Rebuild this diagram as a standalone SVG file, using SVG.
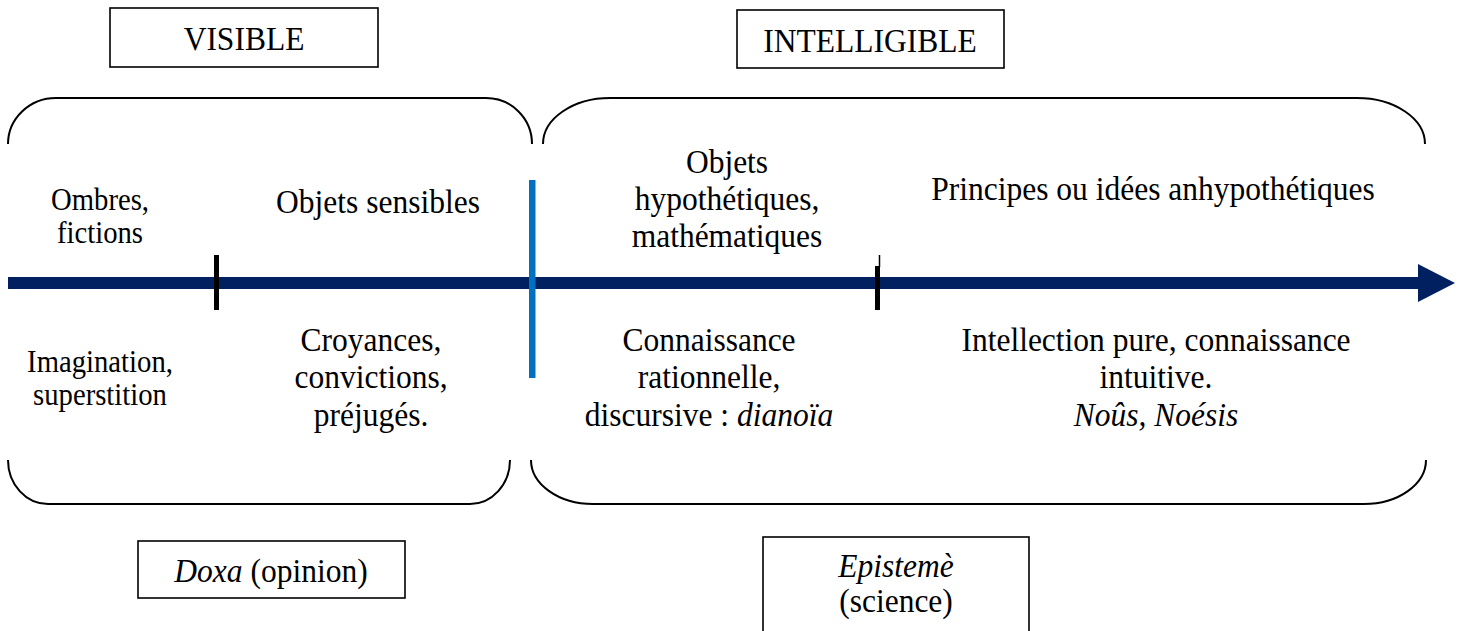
<svg xmlns="http://www.w3.org/2000/svg" width="1464" height="631" viewBox="0 0 1464 631">
<style>
text{font-family:'Liberation Serif','DejaVu Serif',serif;font-size:31.5px;text-anchor:middle;fill:#000}
.s{font-size:28.7px}
.i{font-style:italic}
.box{fill:#fff;stroke:#000;stroke-width:1.6}
.br{fill:none;stroke:#000;stroke-width:2}
</style>
<rect width="1464" height="631" fill="#fff"/>
<g id="brackets">
<path class="br" d="M 8 144 A 48 46 0 0 1 56 98 L 486 98 A 46 46 0 0 1 532 144"/>
<path class="br" d="M 543 144 A 67 46 0 0 1 610 98 L 1357 98 A 68 46 0 0 1 1425 144"/>
<path class="br" d="M 8 460 A 40 44 0 0 0 48 504 L 470 504 A 40 44 0 0 0 510 460"/>
<path class="br" d="M 531 460 A 62 44 0 0 0 593 504 L 1364 504 A 62 44 0 0 0 1426 460"/>
</g>
<g id="connectors">
<line x1="8" y1="283" x2="1420" y2="283" stroke="#002060" stroke-width="12"/>
<polygon points="1418,264 1455,283 1418,302" fill="#002060"/>
<rect x="214" y="255" width="5" height="55" fill="#000"/>
<rect x="875" y="266" width="5" height="44" fill="#000"/>
<line x1="879.5" y1="255" x2="879.5" y2="267" stroke="#000" stroke-width="1.5"/>
<rect x="529" y="180" width="6.5" height="198" fill="#0070C0"/>
</g>
<g id="visible">
<rect class="box" x="110" y="8" width="268" height="59"/>
<text font-family="Liberation Serif, serif" transform="translate(244,50) scale(1,1.1)">VISIBLE</text>
</g>
<g id="intelligible">
<rect class="box" x="737" y="10" width="267" height="58"/>
<text transform="translate(870,52) scale(1,1.1)">INTELLIGIBLE</text>
</g>
<g id="ombres">
<text class="s" transform="translate(100,210) scale(1,1.1)"><tspan x="0" y="0">Ombres,</tspan><tspan x="0" dy="30">fictions</tspan></text>
</g>
<g id="objets-sensibles">
<text transform="translate(378,213) scale(1,1.1)">Objets sensibles</text>
</g>
<g id="objets-hypothetiques">
<text transform="translate(727,173) scale(1,1.1)"><tspan x="0" y="0">Objets</tspan><tspan x="0" dy="33.6">hypothétiques,</tspan><tspan x="0" dy="33.6">mathématiques</tspan></text>
</g>
<g id="principes">
<text transform="translate(1153,200) scale(1,1.1)">Principes ou idées anhypothétiques</text>
</g>
<g id="imagination">
<text class="s" transform="translate(100,372) scale(1,1.1)"><tspan x="0" y="0">Imagination,</tspan><tspan x="0" dy="30">superstition</tspan></text>
</g>
<g id="croyances">
<text transform="translate(371,351) scale(1,1.1)"><tspan x="0" y="0">Croyances,</tspan><tspan x="0" dy="34">convictions,</tspan><tspan x="0" dy="34">préjugés.</tspan></text>
</g>
<g id="connaissance">
<text transform="translate(709,351) scale(1,1.1)"><tspan x="0" y="0">Connaissance</tspan><tspan x="0" dy="34">rationnelle,</tspan><tspan x="0" dy="34">discursive : <tspan class="i">dianoïa</tspan></tspan></text>
</g>
<g id="intellection">
<text transform="translate(1156,351) scale(1,1.1)"><tspan x="0" y="0">Intellection pure, connaissance</tspan><tspan x="0" dy="34">intuitive.</tspan><tspan x="0" dy="34" class="i">Noûs, Noésis</tspan></text>
</g>
<g id="doxa">
<rect class="box" x="138" y="541" width="267" height="57"/>
<text transform="translate(271,582) scale(1,1.1)"><tspan class="i">Doxa</tspan> (opinion)</text>
</g>
<g id="episteme">
<rect class="box" x="763" y="537" width="266" height="110"/>
<text transform="translate(896,577) scale(1,1.1)"><tspan x="0" y="0" class="i">Epistemè</tspan><tspan x="0" dy="32">(science)</tspan></text>
</g>
</svg>
